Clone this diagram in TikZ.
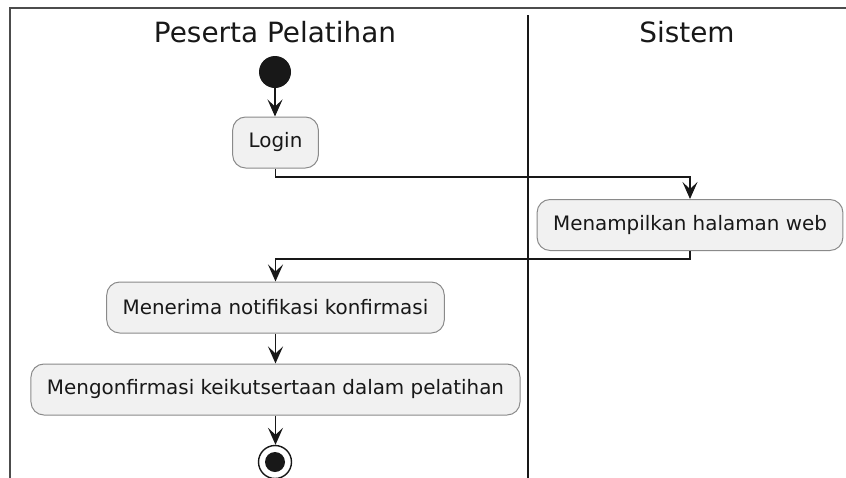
\documentclass[tikz,border=0pt]{standalone}
\usepackage{fontspec}
\setmainfont{DejaVu Sans}
\usetikzlibrary{arrows.meta}
\definecolor{boxfill}{HTML}{F1F1F1}
\definecolor{boxline}{HTML}{8A8A8A}
\definecolor{ink}{HTML}{181818}
\begin{document}
\begin{tikzpicture}[x=1pt,y=-1pt,
  act/.style={draw=boxline, fill=boxfill, line width=1pt, rounded corners=13pt,
    minimum height=51pt, inner xsep=16pt, inner ysep=0pt, text=ink,
    font=\fontsize{19.9}{24}\selectfont},
  lanetitle/.style={text=ink, font=\fontsize{27.9}{32}\selectfont, anchor=base},
  conn/.style={draw=ink, line width=1.4pt, -{Stealth[length=17pt,width=15pt,inset=7pt]}},
  frameline/.style={draw=black!70, line width=1.6pt}
]
\useasboundingbox (0,0) rectangle (846,477);
\clip (0,0) rectangle (846,477);
\fill[white] (0,0) rectangle (846,477);
% frame
\draw[frameline] (10,480) -- (10,8) -- (850,8);
\draw[draw=ink, line width=1.6pt] (528,15) -- (528,480);
% lane titles
\node[lanetitle] (t1) at (275,42) {Peserta Pelatihan};
\node[lanetitle] (t2) at (687,42) {Sistem};
% start
\node[circle, fill=ink, minimum size=32pt, inner sep=0pt] (start) at (275,72) {};
% activities
\node[act] (login) at (275.5,142.5) {Login};
\node[act] (web) at (690,225) {Menampilkan halaman web};
\node[act] (notif) at (275.5,307.5) {Menerima notifikasi konfirmasi};
\node[act] (konf) at (275.5,389.5) {Mengonfirmasi keikutsertaan dalam pelatihan};
% end
\node[circle, draw=ink, line width=1.4pt, fill=white, minimum size=33pt, inner sep=0pt] (stop) at (275,462) {};
\node[circle, fill=ink, minimum size=20pt, inner sep=0pt] (stopin) at (stop.center) {};
% connectors
\draw[conn] (start.south) -- (start.south |- login.north);
\coordinate (c1) at (275.5,177);
\draw[conn] (login.south) -- (c1) -| (web.north);
\coordinate (c2) at (690,259);
\draw[conn] (web.south) -- (c2) -| (notif.north);
\draw[conn] (notif.south) -- (konf.north);
\draw[conn] (konf.south) -- (konf.south |- stop.north);
\end{tikzpicture}
\end{document}
